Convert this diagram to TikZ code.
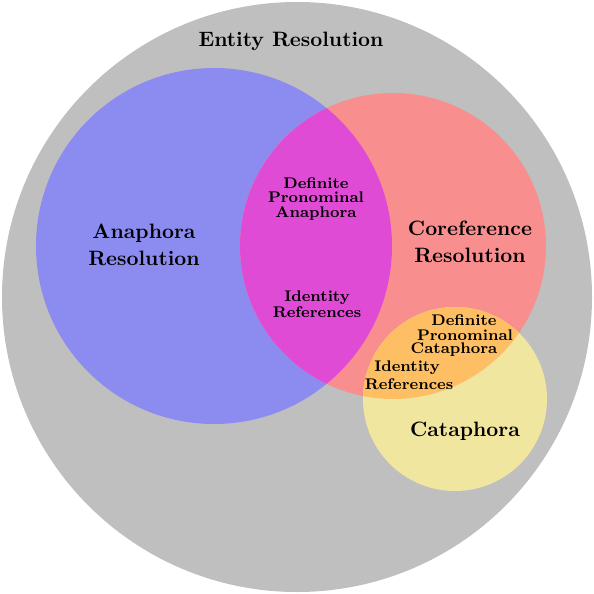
\documentclass[tikz,border=0pt]{standalone}
\usepackage{tikz}
\definecolor{ergrey}{RGB}{191,191,191}
\definecolor{anblue}{RGB}{140,140,240}
\definecolor{cored}{RGB}{248,142,142}
\definecolor{catyel}{RGB}{240,230,160}
\definecolor{mixmag}{RGB}{224,75,214}
\definecolor{mixora}{RGB}{254,190,100}
\tikzset{
  biglabel/.style={font=\fontsize{10.4}{13.5}\selectfont\bfseries, align=center, inner sep=0pt},
  toplabel/.style={font=\fontsize{10.4}{12}\selectfont\bfseries, align=center, inner sep=0pt},
  smalllabel/.style={font=\fontsize{7.7}{7.1}\selectfont\bfseries, align=center, inner sep=0pt},
  smallline/.style={font=\fontsize{7.7}{8}\selectfont\bfseries, inner sep=0pt},
}
\begin{document}
\begin{tikzpicture}[x=0.5pt,y=-0.5pt]
\useasboundingbox (0,0) rectangle (594,594);
\fill[ergrey] (297,297) circle[radius=147.5pt];
\fill[anblue] (214,246) circle[radius=89pt];
\fill[cored] (393,246) circle[radius=76.5pt];
\fill[catyel] (455,399) circle[radius=46pt];
\begin{scope}
  \clip (214,246) circle[radius=89pt];
  \fill[mixmag] (393,246) circle[radius=76.5pt];
\end{scope}
\begin{scope}
  \clip (393,246) circle[radius=76.5pt];
  \fill[mixora] (455,399) circle[radius=46pt];
\end{scope}
\node[toplabel] (er) at (291,41) {Entity Resolution};
\node[biglabel] (ar) at (144,245) {Anaphora\\Resolution};
\node[biglabel] (cr) at (470,242) {Coreference\\Resolution};
\node[biglabel] (ca) at (465,431) {Cataphora};
\node[smalllabel] (dpa) at (316,199) {Definite\\Pronominal\\Anaphora};
\node[smalllabel, font=\fontsize{7.7}{8}\selectfont\bfseries] (ir) at (317,304) {Identity\\References};
\node[smallline] (dpc1) at (464,320) {Definite};
\node[smallline] (dpc2) at (465,335) {Pronominal};
\node[smallline] (dpc3) at (454,350) {Cataphora};
\node[smallline] (irc1) at (407,368) {Identity};
\node[smallline] (irc2) at (409,384) {References};
\end{tikzpicture}
\end{document}
